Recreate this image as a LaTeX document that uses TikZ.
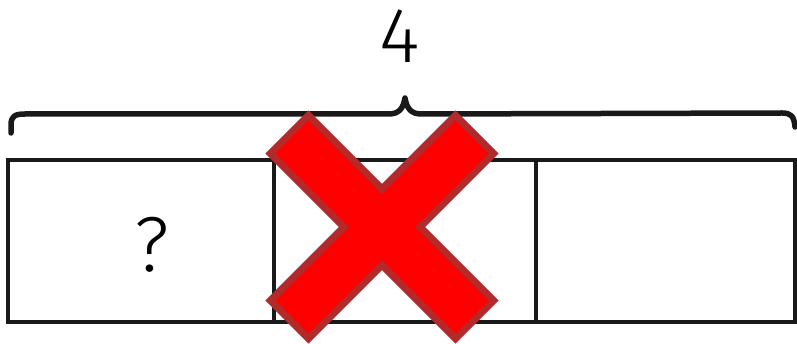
\documentclass[tikz,border=0pt]{standalone}
\usepackage{fontspec}
\setsansfont{Fira Sans Light}
\definecolor{xfill}{RGB}{255,0,0}
\definecolor{xedge}{RGB}{178,42,42}
\begin{document}
\begin{tikzpicture}[x=1pt,y=-1pt,
  box/.style={draw=black!90, line width=4.5pt, rectangle, inner sep=0pt, minimum height=162pt},
  lbl/.style={font=\sffamily\fontsize{78}{78}\selectfont, inner sep=0pt, anchor=base},
  bracestyle/.style={draw=black!90, line width=5.5pt, line cap=round, line join=round},
  cross/.style={fill=xfill, draw=xedge, line width=7pt, line join=miter}]
\useasboundingbox (0,0) rectangle (797,344);
% boxes
\node[box, minimum width=266pt] (b1) at (141,241) {};
\node[box, minimum width=262pt] (b2) at (405,241) {};
\node[box, minimum width=259pt] (b3) at (665.5,241) {};
\node[lbl] (q) at (152,272) {?};
% label
\node[lbl] (four) at (400,63) {4};
% brace
\coordinate (bl) at (11,133);
\coordinate (bm) at (405,98);
\coordinate (br) at (795,127);
\draw[bracestyle] (bl) -- (11,125) .. controls (11,116) and (15,114) .. (25,114)
  -- (388,114) .. controls (399,114) and (403,109) .. (bm)
  .. controls (407,109) and (411,114) .. (422,114)
  -- (782,113) .. controls (791,113) and (794,116) .. (br);
% cross
\begin{scope}[shift={(382,227)}, rotate=45]
\path[cross] (-131,-27) -- (-27,-27) -- (-27,-131) -- (27,-131) -- (27,-27) -- (131,-27)
  -- (131,27) -- (27,27) -- (27,131) -- (-27,131) -- (-27,27) -- (-131,27) -- cycle;
\end{scope}
\end{tikzpicture}
\end{document}
